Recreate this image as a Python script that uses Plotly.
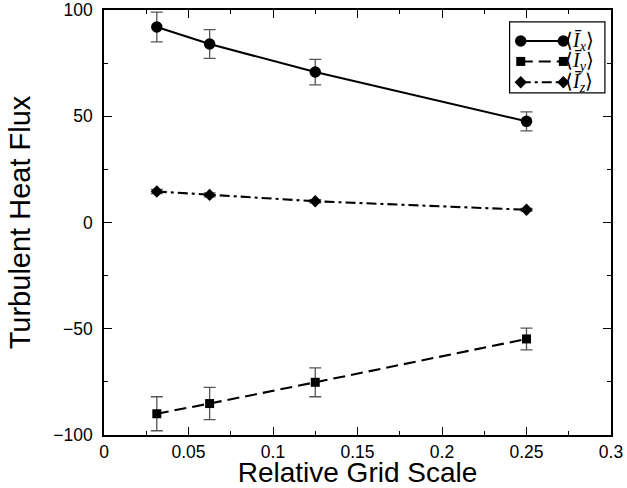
import plotly.graph_objects as go

grid_scale = [0.03125, 0.0625, 0.125, 0.25]
ix_vals = [92.0, 84.0, 70.8, 47.6]
ix_err = [7.0, 6.8, 6.0, 4.5]
iy_vals = [-90.0, -85.2, -75.2, -54.8]
iy_err = [8.0, 7.6, 6.8, 5.1]
iz_vals = [14.6, 13.0, 10.0, 6.0]
iz_err = [1.0, 0.9, 0.8, 0.6]

legend_labels = ["⟨<i>I\u0304</i><sub><i>x</i></sub>⟩",
                 "⟨<i>I\u0304</i><sub><i>y</i></sub>⟩",
                 "⟨<i>I\u0304</i><sub><i>z</i></sub>⟩"]

ERR = dict(type="data", thickness=1.3, width=6, color="#555555")
series = [
    (ix_vals, ix_err, "circle", 11.5, "solid"),
    (iy_vals, iy_err, "square", 9, "12px,6px"),
    (iz_vals, iz_err, "diamond", 9.5, "10px,4px,3px,4px"),
]

fig = go.Figure()
for vals, err, sym, sz, dash in series:
    fig.add_trace(go.Scatter(
        x=grid_scale, y=vals, mode="lines+markers",
        line=dict(color="black", width=2.1, dash=dash),
        marker=dict(symbol=sym, size=sz, color="black"),
        error_y=dict(array=err, **ERR),
        showlegend=False, cliponaxis=False))

# custom legend (samples with markers at both ends)
rows_y = [0.927, 0.879, 0.830]
for (vals, err, sym, sz, dash), ry, lab in zip(series, rows_y, legend_labels):
    fig.add_trace(go.Scatter(
        x=[0.822, 0.906], y=[ry, ry], xaxis="x2", yaxis="y2",
        mode="lines+markers",
        line=dict(color="black", width=2.1, dash=dash),
        marker=dict(symbol=sym, size=sz, color="black"),
        showlegend=False, hoverinfo="skip", cliponaxis=False))
    fig.add_annotation(x=0.906, y=ry, xref="paper", yref="paper",
                       text=lab, showarrow=False, xanchor="left", yanchor="middle",
                       font=dict(family="Liberation Serif", size=20, color="black"))

fig.add_shape(type="rect", xref="paper", yref="paper",
              x0=0.80, x1=0.988, y0=0.805, y1=0.972,
              line=dict(color="black", width=1.2), fillcolor="rgba(0,0,0,0)")

axis_common = dict(showline=True, linecolor="black", linewidth=1.5, mirror="allticks",
                   ticks="inside", ticklen=8, tickwidth=1, tickcolor="black",
                   showgrid=False, zeroline=False, automargin=False,
                   tickfont=dict(family="Liberation Sans", size=17.5, color="black"))

fig.update_layout(
    width=627, height=488,
    margin=dict(l=104, r=16, t=10, b=53),
    paper_bgcolor="white", plot_bgcolor="white",
    xaxis=dict(range=[0, 0.3], dtick=0.05, tickformat="~g",
               minor=dict(dtick=0.025, ticks="inside", ticklen=4, tickcolor="black"),
               title=dict(text="Relative Grid Scale", standoff=0,
                          font=dict(family="Liberation Sans", size=28, color="black")),
               **axis_common),
    yaxis=dict(range=[-100, 100], dtick=50, ticklabelstandoff=6,
               minor=dict(dtick=25, ticks="inside", ticklen=4, tickcolor="black"),
               title=dict(text="Turbulent Heat Flux", standoff=14,
                          font=dict(family="Liberation Sans", size=29, color="black")),
               **axis_common),
    xaxis2=dict(overlaying="x", range=[0, 1], visible=False, domain=[0, 1]),
    yaxis2=dict(overlaying="y", range=[0, 1], visible=False, domain=[0, 1]),
    font=dict(family="Liberation Sans", color="black"),
)

fig.write_html("out.html", config={"displayModeBar": False},
               post_script="document.body.style.margin='0';document.body.style.padding='0';")
